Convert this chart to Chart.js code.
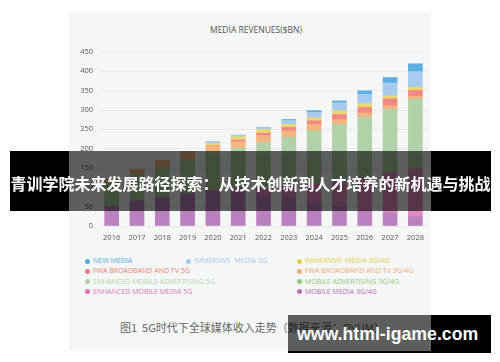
<!DOCTYPE html>
<html>
<head>
<meta charset="utf-8">
<script src="https://cdn.jsdelivr.net/npm/chart.js@4.4.1/dist/chart.umd.min.js"></script>
<style>
  body { margin: 0; background: #fff; }
  #page { position: relative; width: 500px; height: 362px; overflow: hidden; font-family: "Open Sans", sans-serif; }
  #panel { position: absolute; left: 69px; top: 13px; width: 362px; height: 338px; background: #f5f6f6; }
  #chart { position: absolute; left: 69px; top: 13px; }
  #title { position: absolute; left: 156px; width: 200px; top: 24px; text-align: center; font-size: 8.5px; line-height: 12px; color: #555; }
  .leg { position: absolute; font-size: 7px; line-height: 10px; white-space: nowrap; }
  .leg i { display: inline-block; width: 5px; height: 5px; border-radius: 50%; margin-right: 3px; vertical-align: -0.5px; }
  #caption { position: absolute; left: 120px; top: 319px; font-family: "Noto Sans CJK SC", sans-serif; font-size: 11px; line-height: 16px; color: #666; white-space: nowrap; }
  .dark { position: absolute; background: #000; }
  .shade { position: absolute; background: rgba(0, 0, 0, 0.62); }
  #bannerText { position: absolute; left: 10px; top: 153px; width: 481px; height: 60px; line-height: 60px; text-align: center; color: #fff;
    font-family: "Noto Sans CJK SC", sans-serif; font-weight: bold; font-size: 16px; white-space: nowrap; }
  #mark { position: absolute; left: 297px; top: 315px; height: 38px; line-height: 38px; color: #fff;
    font-family: "Liberation Sans", sans-serif; font-weight: bold; font-size: 17.7px; white-space: nowrap; }
</style>
</head>
<body>
<div id="page">
  <div id="panel"></div>
  <div id="title">MEDIA REVENUES($BN)</div>
  <canvas id="chart" width="362" height="240"></canvas>
  <div id="legend"></div>
  <div id="caption">图1&nbsp; 5G时代下全球媒体收入走势（数据来源：OVUM）</div>

  <div class="dark" style="left:10px;top:151px;width:59px;height:60px"></div>
  <div class="shade" style="left:69px;top:151px;width:362px;height:60px"></div>
  <div class="dark" style="left:431px;top:151px;width:60px;height:60px"></div>
  <div id="bannerText">青训学院未来发展路径探索：从技术创新到人才培养的新机遇与挑战</div>

  <div class="shade" style="left:288px;top:315px;width:143px;height:36px"></div>
  <div class="dark" style="left:431px;top:315px;width:60px;height:38px"></div>
  <div class="dark" style="left:288px;top:351px;width:143px;height:2px;background:#000"></div>
  <div id="mark">www.html-igame.com</div>
</div>

<script>
// values, $bn
const years = ['2016', '2017', '2018', '2019', '2020', '2021', '2022', '2023', '2024', '2025', '2026', '2027', '2028'];
const mobileMedia = [50, 65, 73, 83, 90, 86, 80, 72, 60, 50, 42, 34, 24];
const enhancedMobileMedia5g = [0, 0, 0, 0, 2, 12, 20, 31, 48, 65, 83, 104, 124];
const mobileAdvertising = [61, 68, 78, 86, 92, 88, 82, 74, 64, 55, 45, 36, 28];
const enhancedMobileAdvertising5g = [0, 0, 0, 0, 6, 15, 34, 53, 74, 92, 112, 128, 152];
const fwaBroadband = [8, 12, 18, 21, 17, 17, 18, 16, 16, 13, 10, 9, 7];
const fwaBroadband5g = [0, 0, 0, 0, 1, 4.5, 6, 9, 10, 13, 14.5, 18, 15.5];
const immersiveMedia = [0, 0, 0, 1.5, 6, 8.5, 10, 8, 8, 10, 10, 8, 9];
const immersiveMedia5g = [0, 0, 0, 1, 3.5, 3.5, 5, 10, 14, 21, 24, 33, 40];
const newMedia = [0, 0, 0, 0, 0, 0.5, 0.5, 2.5, 4.5, 4.5, 9, 14, 20];
const yTicks = [0, 50, 100, 150, 200, 250, 300, 350, 400, 450];

// bottom of the stack first
const series = [
  { label: 'MOBILE MEDIA 3G/4G', data: mobileMedia, color: '#bb80c0', text: '#b86cb8' },
  { label: 'ENHANCED MOBILE MEDIA 5G', data: enhancedMobileMedia5g, color: '#e38ac0', text: '#e078b4' },
  { label: 'MOBILE ADVERTISING 3G/4G', data: mobileAdvertising, color: '#a6cf98', text: '#8fca78' },
  { label: 'ENHANCED MOBILE ADVERTISING 5G', data: enhancedMobileAdvertising5g, color: '#b1d1a8', text: '#b2d5a6' },
  { label: 'FWA BROADBAND AND TV 3G/4G', data: fwaBroadband, color: '#f3b47e', text: '#f4aa72' },
  { label: 'FWA BROADBAND AND TV 5G', data: fwaBroadband5g, color: '#f08a80', text: '#ef7e72' },
  { label: 'IMMERSIVE  MEDIA 3G/4G', data: immersiveMedia, color: '#ead772', text: '#e6cf48' },
  { label: 'IMMERSIVE  MEDIA 5G', data: immersiveMedia5g, color: '#a5cbee', text: '#a2cbee' },
  { label: 'NEW MEDIA', data: newMedia, color: '#5caee3', text: '#55aae2' }
];

const ctx = document.getElementById('chart').getContext('2d');
const chart = new Chart(ctx, {
  type: 'bar',
  data: {
    labels: years,
    datasets: series.map(s => ({
      label: s.label,
      data: s.data,
      backgroundColor: s.color,
      borderWidth: 0,
      barThickness: 14
    }))
  },
  options: {
    responsive: false,
    animation: false,
    layout: { padding: { top: 39, right: 1, bottom: 13, left: 0 } },
    plugins: {
      legend: { display: false },
      title: { display: false },
      tooltip: { enabled: false }
    },
    scales: {
      x: {
        stacked: true,
        grid: { display: false, drawTicks: false },
        border: { display: false },
        ticks: { padding: 7, color: '#555', font: { family: 'Open Sans', size: 7.5 } },
        afterFit: scale => { scale.height = 14; }
      },
      y: {
        stacked: true,
        min: 0,
        max: 450,
        afterBuildTicks: scale => { scale.ticks = yTicks.map(v => ({ value: v })); },
        grid: { color: '#e9ebeb', lineWidth: 1, drawTicks: false },
        border: { display: false },
        ticks: { padding: 6, color: '#555', font: { family: 'Open Sans', size: 7.5 } },
        afterFit: scale => { scale.width = 30; }
      }
    }
  }
});

// legend laid out like the original: three columns, nine entries
const legendCols = [85, 186, 297];
const legendRows = [256, 266.3, 276.5, 286.8];
const legendSlots = {
  'NEW MEDIA': [0, 0],
  'IMMERSIVE  MEDIA 5G': [1, 0],
  'IMMERSIVE  MEDIA 3G/4G': [2, 0],
  'FWA BROADBAND AND TV 5G': [0, 1],
  'FWA BROADBAND AND TV 3G/4G': [2, 1],
  'ENHANCED MOBILE ADVERTISING 5G': [0, 2],
  'MOBILE ADVERTISING 3G/4G': [2, 2],
  'ENHANCED MOBILE MEDIA 5G': [0, 3],
  'MOBILE MEDIA 3G/4G': [2, 3]
};
const legendBox = document.getElementById('legend');
series.forEach(s => {
  const slot = legendSlots[s.label];
  const el = document.createElement('div');
  el.className = 'leg';
  el.style.left = legendCols[slot[0]] + 'px';
  el.style.top = legendRows[slot[1]] + 'px';
  el.style.color = s.text;
  el.innerHTML = '<i style="background:' + s.text + '"></i>' + s.label.replace(/  /g, '&nbsp; ');
  legendBox.appendChild(el);
});
</script>
</body>
</html>
